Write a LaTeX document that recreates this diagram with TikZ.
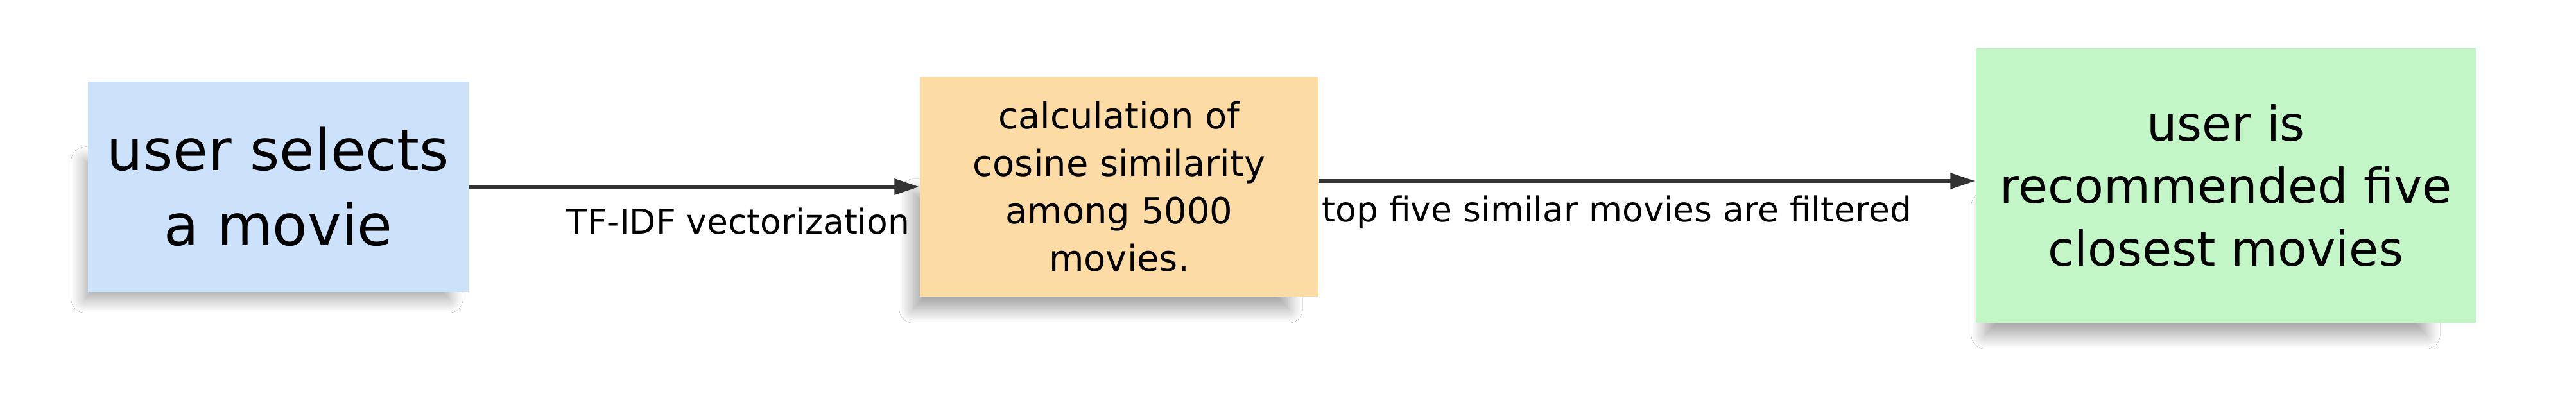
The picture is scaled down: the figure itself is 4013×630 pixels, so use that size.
\documentclass[tikz,border=0pt]{standalone}
\usepackage{fontspec}
\setmainfont{DejaVu Sans}
\usetikzlibrary{arrows.meta,shadows.blur,calc}
\definecolor{stickyblue}{HTML}{CCE1FA}
\definecolor{stickyorange}{HTML}{FCDBA4}
\definecolor{stickygreen}{HTML}{C3F6C7}
\definecolor{arrowgray}{HTML}{333333}
\begin{document}
\begin{tikzpicture}[x=0.01cm,y=-0.01cm,
  note/.style={inner sep=0pt, align=center, text=black},
  notedrop/.style={blur shadow={shadow xshift=0pt, shadow yshift=0pt, shadow blur radius=6pt, shadow blur steps=12, shadow opacity=36}},
  flow/.style={draw=arrowgray, line width=1.7pt, -{Triangle[length=11pt,width=6.8pt]}},
  flowlabel/.style={inner sep=0pt, font=\fontsize{15.2pt}{19pt}\selectfont}
]
\useasboundingbox[fill=white] (0,0) rectangle (4013,630);
% shadows
\path[notedrop] (132,250) rectangle (700,466);
\path[notedrop] (1422,300) rectangle (2008,482);
\path[notedrop] (3092,320) rectangle (3780,522);
% notes
\node[note, fill=stickyblue, minimum width=5.93cm, minimum height=3.28cm,
      font=\fontsize{25.3pt}{33.3pt}\selectfont] (a) at (433.5,291) {user selects\\a movie};
\node[note, fill=stickyorange, minimum width=6.21cm, minimum height=3.42cm,
      font=\fontsize{15.9pt}{21.05pt}\selectfont] (b) at (1743.5,291) {calculation of\\cosine similarity\\among 5000\\movies.};
\node[note, fill=stickygreen, minimum width=7.79cm, minimum height=4.28cm,
      font=\fontsize{21.3pt}{27.7pt}\selectfont] (c) at (3467.5,289) {user is\\recommended five\\closest movies};
% connectors
\draw[flow] (a.east) -- (b.west);
\coordinate (s2) at ($(b.east)+(0,-9)$);
\draw[flow] (s2) -- (s2 -| c.west);
% labels
\node[flowlabel, anchor=base east] (l1) at ($(b.west)+(-14,73)$) {TF-IDF vectorization};
\node[flowlabel, anchor=base west] (l2) at ($(b.east)+(4,54)$) {top five similar movies are filtered};
\end{tikzpicture}
\end{document}
